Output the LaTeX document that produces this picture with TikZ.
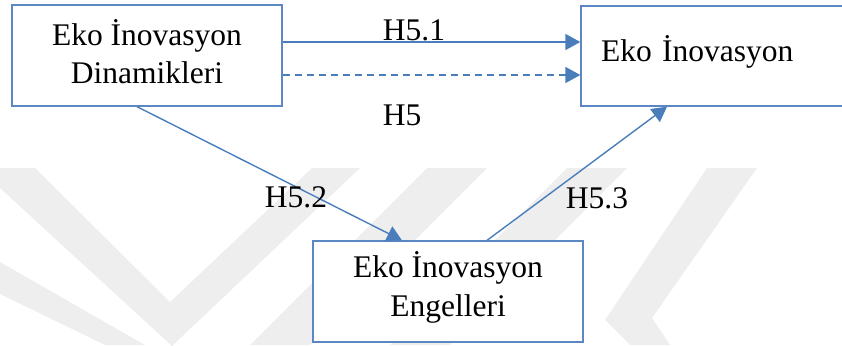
\documentclass[tikz,border=0pt]{standalone}
\usepackage{fontspec}
\setmainfont{Liberation Serif}
\usetikzlibrary{arrows.meta,calc}

\definecolor{linkblue}{HTML}{4A7EBB}
\definecolor{boxblue}{HTML}{5B87C2}
\definecolor{markgray}{HTML}{EEEEEE}

\tikzset{
  conceptbox/.style={draw=boxblue, line width=1.3pt, fill=white, rectangle,
    minimum width=270pt, inner sep=0pt, align=center,
    font=\fontsize{31.5}{38.5}\selectfont},
  link/.style={draw=linkblue, line width=1.6pt,
    -{Triangle[length=15pt,width=16pt]}},
  dashedlink/.style={link, dash pattern=on 7pt off 5pt},
  hyplabel/.style={anchor=base, inner sep=0pt, font=\fontsize{31.5}{38.5}\selectfont},
  chevron/.style={fill=markgray, draw=none}
}

\begin{document}
\begin{tikzpicture}[x=1pt, y=-1pt]
\useasboundingbox (0,0) rectangle (842,345);

% faint chevron watermark behind the diagram
\fill[chevron] (0,168) -- (35,168) -- (170,302) -- (312,168) -- (360,168)
  -- (172,346) -- (0,188) -- cycle;
\fill[chevron] (0,262) -- (0,294) -- (105,345) -- (145,345) -- cycle;
\fill[chevron] (427,168) -- (487,168) -- (310,345) -- (250,345) -- cycle;
\fill[chevron] (567,168) -- (627,168) -- (450,345) -- (390,345) -- cycle;
\fill[chevron] (707,168) -- (757,168) -- (652,318) -- (670,345) -- (630,345)
  -- (605,320) -- cycle;

% concept boxes
\node[conceptbox, minimum height=101pt] (b1) at (147,55.5)
  {Eko İnovasyon\\Dinamikleri\rule[-8pt]{0pt}{8pt}};
\node[conceptbox, minimum height=100pt, align=left, text width=230pt,
  inner xsep=20pt, text height=20pt, text depth=8pt] (b2) at (716,56)
  {Eko İnovasyon};
\node[conceptbox, minimum height=101pt] (b3) at (448,291.5)
  {Eko İnovasyon\\Engelleri\rule[-15pt]{0pt}{15pt}};

% connector end points
\coordinate (h1s) at ([yshift=13.5pt]b1.east);
\coordinate (h5s) at ([yshift=-19.5pt]b1.east);
\coordinate (h2s) at ([xshift=-10pt]b1.south);
\coordinate (h2e) at ([xshift=-46pt]b3.north);
\coordinate (h3s) at ([xshift=39pt]b3.north);
\coordinate (h3e) at ([xshift=-49pt]b2.south);

% hypothesis paths
\draw[link] (h1s) -- (h1s -| b2.west);
\draw[dashedlink] (h5s) -- (h5s -| b2.west);
\draw[link, line width=1.4pt] (h2s) -- (h2e);
\draw[link, line width=1.4pt] (h3s) -- (h3e);

% hypothesis labels
\node[hyplabel] (l51) at (414,41) {H5.1};
\node[hyplabel] (l5) at (402,125) {H5};
\node[hyplabel] (l52) at (296,207) {H5.2};
\node[hyplabel] (l53) at (597,208) {H5.3};
\end{tikzpicture}
\end{document}
